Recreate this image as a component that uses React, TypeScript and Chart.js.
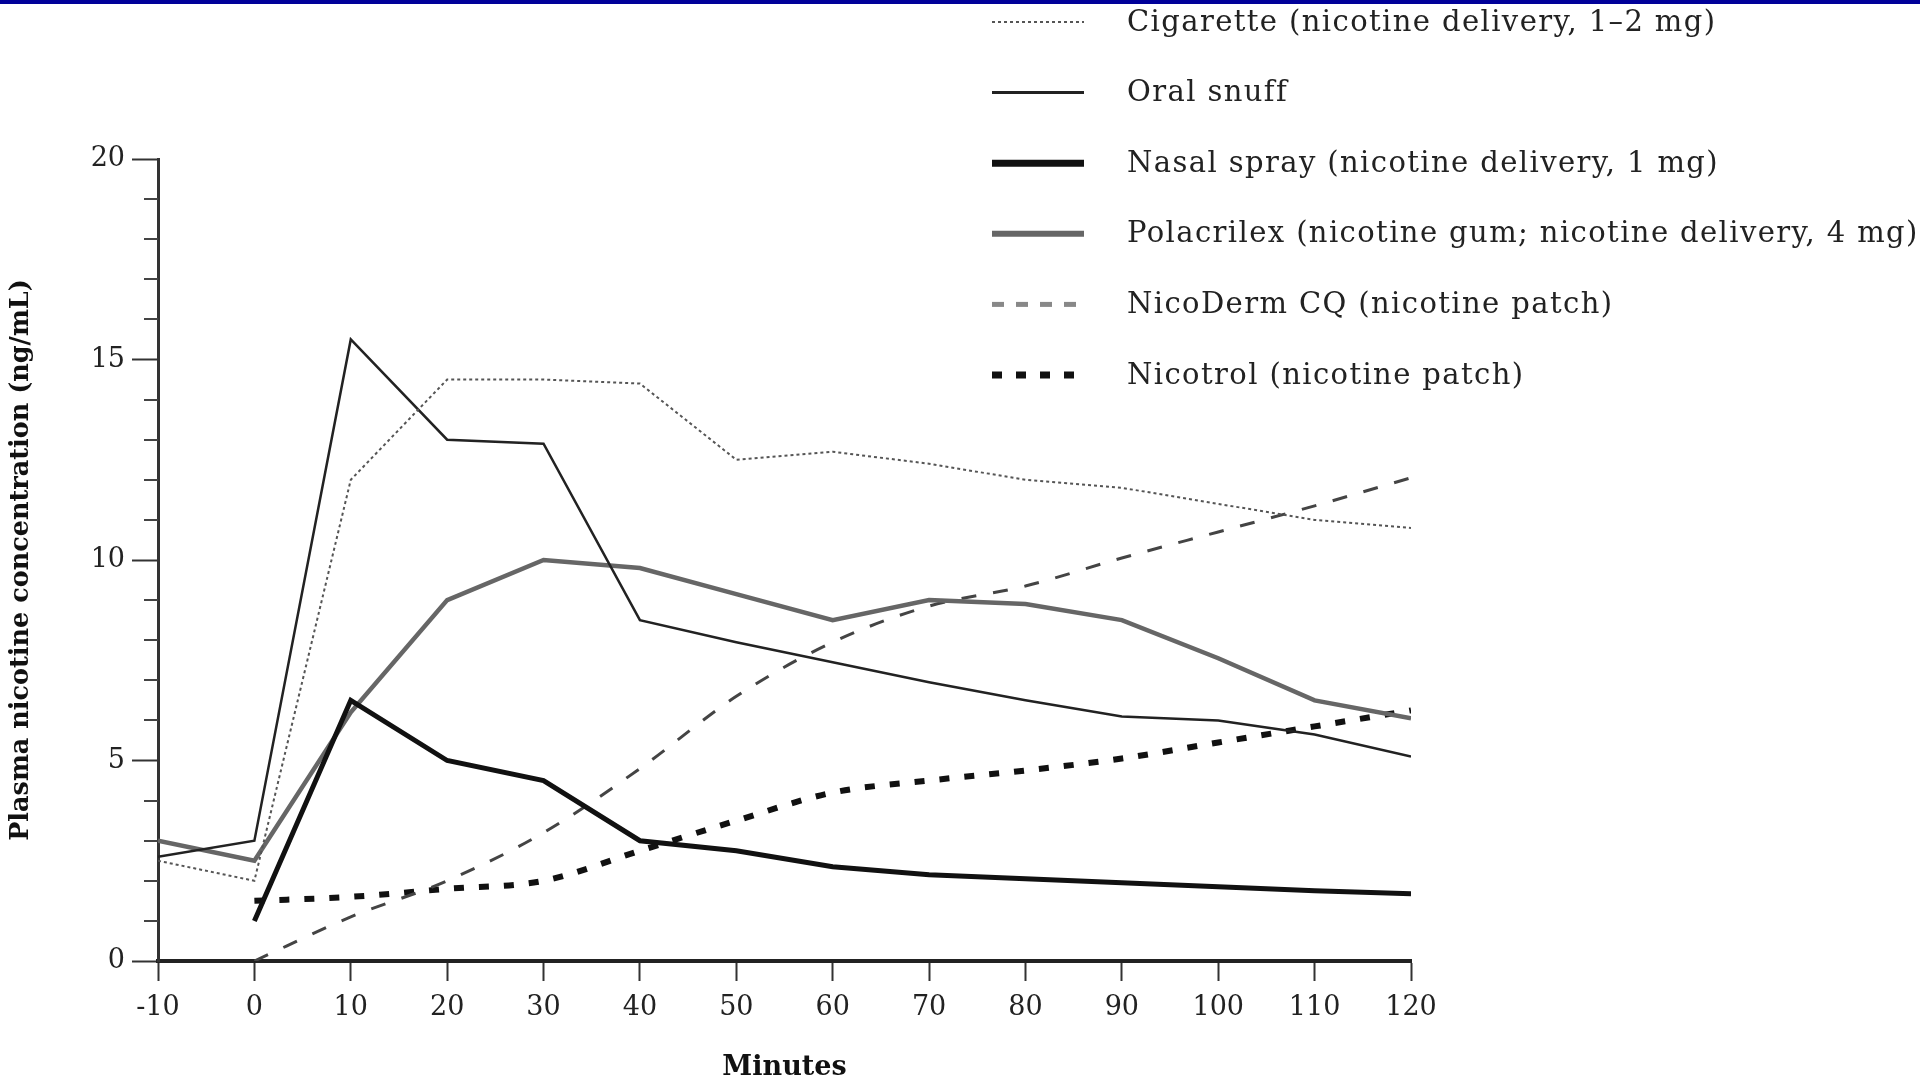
import React, { useEffect, useRef } from "react";
import { Chart, registerables } from "chart.js";

Chart.register(...registerables);

// ---- data ----
const minutes = [-10, 0, 10, 20, 30, 40, 50, 60, 70, 80, 90, 100, 110, 120];
const cigarette = [2.5, 2.0, 12.0, 14.5, 14.5, 14.4, 12.5, 12.7, 12.4, 12.0, 11.8, 11.4, 11.0, 10.8];
const oralSnuff = [2.6, 3.0, 15.5, 13.0, 12.9, 8.5, 7.95, 7.45, 6.95, 6.5, 6.1, 6.0, 5.65, 5.1];
const nasalSpray = [null, 1.0, 6.5, 5.0, 4.5, 3.0, 2.75, 2.35, 2.15, 2.05, 1.95, 1.85, 1.75, 1.68];
const polacrilex = [3.0, 2.5, 6.2, 9.0, 10.0, 9.8, 9.15, 8.5, 9.0, 8.9, 8.5, 7.55, 6.5, 6.05];
const nicoDerm = [null, 0, 1.1, 2.0, 3.2, 4.8, 6.6, 7.95, 8.85, 9.35, 10.05, 10.7, 11.35, 12.05];
const nicotrol = [null, 1.5, 1.6, 1.8, 2.0, 2.75, 3.5, 4.2, 4.5, 4.75, 5.05, 5.45, 5.85, 6.25];

const seriesLabels = [
  "Cigarette (nicotine delivery, 1\u20132 mg)",
  "Oral snuff",
  "Nasal spray (nicotine delivery, 1 mg)",
  "Polacrilex (nicotine gum; nicotine delivery, 4 mg)",
  "NicoDerm CQ (nicotine patch)",
  "Nicotrol (nicotine patch)",
];

const xTicks = [-10, 0, 10, 20, 30, 40, 50, 60, 70, 80, 90, 100, 110, 120];
const yMajorTicks = [0, 5, 10, 15, 20];
const xTitle = "Minutes";
const yTitle = "Plasma nicotine concentration (ng/mL)";

const FONT = '"DejaVu Serif", "Liberation Serif", serif';

function toPoints(values: (number | null)[]) {
  const pts: { x: number; y: number }[] = [];
  values.forEach((v, i) => {
    if (v !== null) pts.push({ x: minutes[i], y: v });
  });
  return pts;
}

const backgroundPlugin = {
  id: "bgBand",
  beforeDraw(chart: any) {
    const { ctx, width, height } = chart;
    ctx.save();
    ctx.fillStyle = "#ffffff";
    ctx.fillRect(0, 0, width, height);
    ctx.fillStyle = "#000099";
    ctx.fillRect(0, 0, width, 4);
    ctx.restore();
  },
};

const minorTickPlugin = {
  id: "minorTicks",
  afterDraw(chart: any) {
    const y = chart.scales.y;
    const { ctx, chartArea } = chart;
    ctx.save();
    ctx.strokeStyle = "#444";
    ctx.lineWidth = 2;
    y.ticks.forEach((t: any) => {
      if (yMajorTicks.includes(t.value)) return;
      const py = Math.round(y.getPixelForValue(t.value));
      ctx.beginPath();
      ctx.moveTo(chartArea.left - 14, py);
      ctx.lineTo(chartArea.left, py);
      ctx.stroke();
    });
    ctx.restore();
  },
};

const legendPlugin = {
  id: "customLegend",
  afterDraw(chart: any) {
    const { ctx } = chart;
    const x0 = 992;
    const x1 = 1084;
    const tx = 1127;
    const y0 = 22;
    const dy = 70.6;
    ctx.save();
    chart.data.datasets.forEach((ds: any, i: number) => {
      const yy = y0 + i * dy;
      ctx.beginPath();
      ctx.strokeStyle = ds.legendColor || ds.borderColor;
      ctx.lineWidth = ds.legendWidth || ds.borderWidth;
      ctx.setLineDash(ds.legendDash || ds.borderDash || []);
      ctx.lineCap = "butt";
      ctx.moveTo(x0, yy);
      ctx.lineTo(x1, yy);
      ctx.stroke();
      ctx.setLineDash([]);
      ctx.fillStyle = "#222222";
      ctx.font = `29px ${FONT}`;
      try {
        (ctx as any).letterSpacing = "1.4px";
      } catch (e) {}
      ctx.textBaseline = "middle";
      ctx.textAlign = "left";
      ctx.fillText(ds.label, tx, yy + 1);
      try {
        (ctx as any).letterSpacing = "0px";
      } catch (e) {}
    });
    ctx.restore();
  },
};

export default function App() {
  const ref = useRef<HTMLCanvasElement>(null);

  useEffect(() => {
    document.body.style.margin = "0";
    const canvas = ref.current;
    if (!canvas) return;
    const chart = new Chart(canvas, {
      type: "line",
      data: {
        datasets: [
          {
            label: seriesLabels[0],
            data: toPoints(cigarette),
            borderColor: "#555555",
            borderWidth: 2,
            borderDash: [3, 3],
            tension: 0,
          },
          {
            label: seriesLabels[1],
            data: toPoints(oralSnuff),
            borderColor: "#222222",
            borderWidth: 2.5,
            tension: 0,
            legendWidth: 3,
          },
          {
            label: seriesLabels[2],
            data: toPoints(nasalSpray),
            borderColor: "#111111",
            borderWidth: 5,
            tension: 0,
            legendWidth: 7,
          },
          {
            label: seriesLabels[3],
            data: toPoints(polacrilex),
            borderColor: "#666666",
            borderWidth: 4.5,
            tension: 0,
            legendWidth: 6,
          },
          {
            label: seriesLabels[4],
            data: toPoints(nicoDerm),
            borderColor: "#444444",
            borderWidth: 3,
            borderDash: [15, 17],
            cubicInterpolationMode: "monotone",
            legendColor: "#888888",
            legendWidth: 5,
            legendDash: [12, 12],
          },
          {
            label: seriesLabels[5],
            data: toPoints(nicotrol),
            borderColor: "#111111",
            borderWidth: 6,
            borderDash: [10, 15],
            cubicInterpolationMode: "monotone",
            legendDash: [10, 14],
            legendWidth: 7,
          },
        ] as any,
      },
      options: {
        animation: false,
        responsive: false,
        maintainAspectRatio: false,
        layout: { padding: { left: 0, top: 159, right: 509, bottom: 0 } },
        elements: { point: { radius: 0 }, line: { borderCapStyle: "butt", borderJoinStyle: "miter" } },
        plugins: {
          legend: { display: false },
          tooltip: { enabled: false },
        },
        scales: {
          x: {
            type: "linear",
            min: -10,
            max: 120,
            afterBuildTicks: (scale: any) => {
              scale.ticks = xTicks.map((v) => ({ value: v }));
            },
            afterFit: (scale: any) => {
              scale.height = 123;
            },
            grid: {
              drawOnChartArea: false,
              drawTicks: true,
              tickLength: 20,
              tickWidth: 2,
              tickColor: "#333333",
            },
            border: { display: true, color: "#222222", width: 4 },
            ticks: {
              autoSkip: false,
              maxRotation: 0,
              padding: 11,
              color: "#222222",
              font: { family: FONT, size: 27 },
              callback: (v: any) => String(v),
            },
            title: {
              display: true,
              text: xTitle,
              color: "#111111",
              font: { family: FONT, size: 27, weight: "bold" },
              padding: { top: 0, bottom: 0 },
            },
          },
          y: {
            type: "linear",
            min: 0,
            max: 20,
            afterFit: (scale: any) => {
              scale.width = 158;
            },
            grid: {
              drawOnChartArea: false,
              drawTicks: true,
              tickLength: 26,
              tickWidth: 2,
              tickColor: (ctx: any) =>
                ctx.tick && yMajorTicks.includes(ctx.tick.value) ? "#333333" : "rgba(0,0,0,0)",
            },
            border: { display: true, color: "#333333", width: 3 },
            ticks: {
              stepSize: 1,
              autoSkip: false,
              padding: 7,
              color: "#222222",
              font: { family: FONT, size: 27 },
              callback: (v: any) => (yMajorTicks.includes(Number(v)) ? String(v) : ""),
            },
            title: {
              display: true,
              text: yTitle,
              color: "#111111",
              font: { family: FONT, size: 25.5, weight: "bold" },
              padding: { top: 6, bottom: 0 },
            },
          },
        },
      },
      plugins: [backgroundPlugin, minorTickPlugin, legendPlugin],
    } as any);
    return () => chart.destroy();
  }, []);

  return (
    <div
      style={{
        position: "absolute",
        left: 0,
        top: 0,
        width: 1920,
        height: 1084,
        background: "#ffffff",
        overflow: "hidden",
      }}
    >
      <canvas ref={ref} width={1920} height={1084} style={{ display: "block", width: 1920, height: 1084 }} />
    </div>
  );
}
